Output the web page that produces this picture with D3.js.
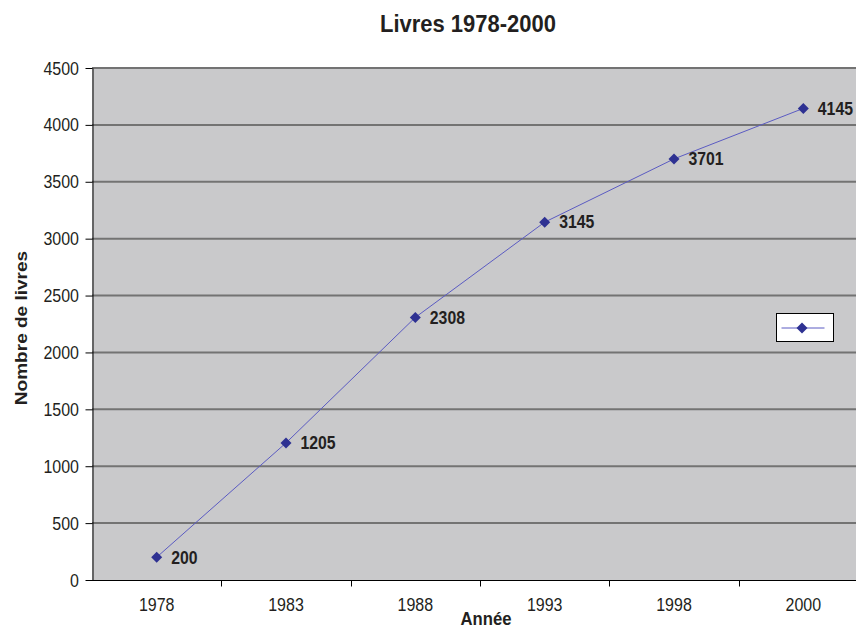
<!DOCTYPE html>
<html>
<head>
<meta charset="utf-8">
<script src="https://cdn.jsdelivr.net/npm/d3@7"></script>
<style>
  html, body { margin: 0; padding: 0; background: #fff; }
  svg { display: block; font-family: "Liberation Sans", Arial, sans-serif; }
</style>
</head>
<body>
<svg id="chart" width="856" height="628"></svg>
<script>
// Book counts per year
const years = ["1978", "1983", "1988", "1993", "1998", "2000"];
const books = [200, 1205, 2308, 3145, 3701, 4145];
const yTicks = [0, 500, 1000, 1500, 2000, 2500, 3000, 3500, 4000, 4500];

const svg = d3.select("#chart");
const plot = { left: 92, top: 68, right: 868, bottom: 580 };
const stretch = 1.14;       // text is drawn slightly taller than wide
const ink = "#231f20";

const x = d3.scaleBand().domain(years).range([plot.left, plot.right]);
const y = d3.scaleLinear().domain([0, 4500]).range([plot.bottom, plot.top]);
const cx = d => x(d) + x.bandwidth() / 2;

// plot background
svg.append("rect")
  .attr("x", plot.left).attr("y", plot.top)
  .attr("width", plot.right - plot.left).attr("height", plot.bottom - plot.top)
  .attr("fill", "#c9c9cb");

// horizontal gridlines
svg.append("g").selectAll("line").data(yTicks.filter(d => d > 0)).join("line")
  .attr("x1", plot.left).attr("x2", plot.right)
  .attr("y1", d => y(d)).attr("y2", d => y(d))
  .attr("stroke", "#737373").attr("stroke-width", 2);

// y axis (line and ticks from d3.axisLeft, labels drawn stretched)
const yAxis = svg.append("g")
  .attr("transform", `translate(${plot.left + 0.5},0)`)
  .call(d3.axisLeft(y).tickValues(yTicks).tickSize(7).tickSizeOuter(0).tickFormat(""));
yAxis.select(".domain").attr("stroke", "#000");
yAxis.selectAll(".tick line").attr("stroke", "#000");
svg.append("g").selectAll("text").data(yTicks).join("text")
  .attr("transform", d => `translate(79,${y(d) + 6.5}) scale(1,${stretch})`)
  .attr("text-anchor", "end").attr("font-size", 16).attr("fill", ink)
  .text(d3.format("d"));

// x axis with ticks between categories
const xAxis = svg.append("g").attr("transform", `translate(0,${plot.bottom + 0.5})`);
xAxis.append("line").attr("x1", plot.left).attr("x2", plot.right).attr("stroke", "#000");
xAxis.selectAll("line.tk").data(years.slice(1)).join("line").attr("class", "tk")
  .attr("x1", d => Math.round(x(d)) + 0.5).attr("x2", d => Math.round(x(d)) + 0.5)
  .attr("y1", 0).attr("y2", 6).attr("stroke", "#000");
svg.append("g").selectAll("text").data(years).join("text")
  .attr("transform", d => `translate(${cx(d)},611) scale(1,${stretch})`)
  .attr("text-anchor", "middle").attr("font-size", 16).attr("fill", ink)
  .text(d => d);

// series line
const line = d3.line().x((d, i) => cx(years[i])).y(d => y(d));
svg.append("path").datum(books)
  .attr("d", line).attr("fill", "none").attr("stroke", "#5b5bc2").attr("stroke-width", 1);

// diamond markers
const diamond = "M0,-5.5L5.5,0L0,5.5L-5.5,0Z";
svg.append("g").selectAll("path").data(books).join("path")
  .attr("transform", (d, i) => `translate(${cx(years[i])},${y(d)})`)
  .attr("d", diamond).attr("fill", "#2e3192");

// value labels
svg.append("g").selectAll("text").data(books).join("text")
  .attr("transform", (d, i) => `translate(${cx(years[i]) + 14.5},${y(d) + 6.3}) scale(1,${stretch})`)
  .attr("font-size", 15.8).attr("font-weight", "bold").attr("fill", ink)
  .text(d => d);

// legend
const lg = svg.append("g").attr("transform", "translate(776.5,313.5)");
lg.append("rect").attr("width", 57).attr("height", 28).attr("fill", "#fff").attr("stroke", "#000");
lg.append("line").attr("x1", 5).attr("x2", 48).attr("y1", 14.5).attr("y2", 14.5)
  .attr("stroke", "#5b5bc2").attr("stroke-width", 1);
lg.append("path").attr("transform", "translate(25.5,14.5)").attr("d", diamond).attr("fill", "#2e3192");

// titles
svg.append("text").attr("transform", `translate(468,31.5) scale(1,1.12)`).attr("text-anchor", "middle")
  .attr("font-size", 22).attr("font-weight", "bold").attr("fill", ink)
  .text("Livres 1978-2000");
svg.append("text").attr("transform", `translate(486,625) scale(1,${stretch})`).attr("text-anchor", "middle")
  .attr("font-size", 16.7).attr("font-weight", "bold").attr("fill", ink)
  .text("Année");
svg.append("text").attr("transform", `translate(26.5,328) scale(1,${stretch}) rotate(-90)`).attr("text-anchor", "middle")
  .attr("font-size", 16.7).attr("font-weight", "bold").attr("fill", ink)
  .text("Nombre de livres");
</script>
</body>
</html>
